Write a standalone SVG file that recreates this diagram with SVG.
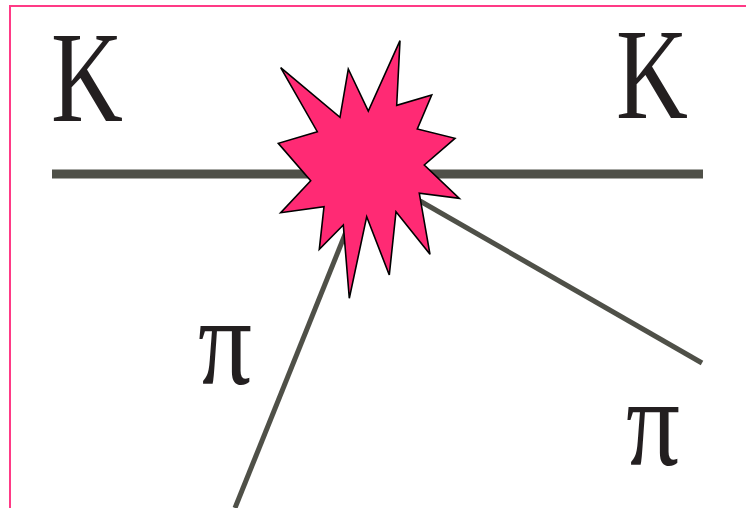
<svg xmlns="http://www.w3.org/2000/svg" width="746" height="508" viewBox="0 0 746 508">
<style>
.lbl{font-family:"Liberation Serif","Times New Roman",serif;fill:#231f20}
.trk{stroke:#4f5048;fill:none}
</style>
<rect x="0" y="0" width="746" height="508" fill="#ffffff"/>
<rect x="10" y="6" width="760" height="520" fill="none" stroke="#ff3a86" stroke-width="2"/>
<g id="connectors">
<line class="trk" x1="52" y1="174" x2="703" y2="174" stroke-width="9"/>
<line class="trk" x1="350" y1="222" x2="235" y2="508" stroke-width="5"/>
<line class="trk" x1="420" y1="201" x2="702" y2="363" stroke-width="5"/>
</g>
<g id="star">
<polygon points="280.7,67.7 340,117.3 348.3,69 368.3,111 400,40.7 396.7,105.3 431.7,95 417.3,129 455,138.3 424.3,165 459.3,198.3 419.3,193.3 430,254.3 396,211.7 389.3,275 366.7,216.7 349.3,298.3 343.3,225 319.3,249.3 324,206.7 280.7,212.7 310.7,180.7 278.3,143.3 317.3,131.7" fill="#ff2a74" stroke="#000" stroke-width="1.6" stroke-linejoin="miter"/>
</g>
<g id="label-K-left"><text class="lbl" x="51" y="121" font-size="130" textLength="72" lengthAdjust="spacingAndGlyphs">K</text></g>
<g id="label-K-right"><text class="lbl" x="616" y="118" font-size="130" textLength="72" lengthAdjust="spacingAndGlyphs">K</text></g>
<g id="label-pi-left"><text class="lbl" x="198" y="384" font-size="125" textLength="54" lengthAdjust="spacingAndGlyphs">π</text></g>
<g id="label-pi-right"><text class="lbl" x="626" y="465" font-size="125" textLength="54" lengthAdjust="spacingAndGlyphs">π</text></g>
</svg>
